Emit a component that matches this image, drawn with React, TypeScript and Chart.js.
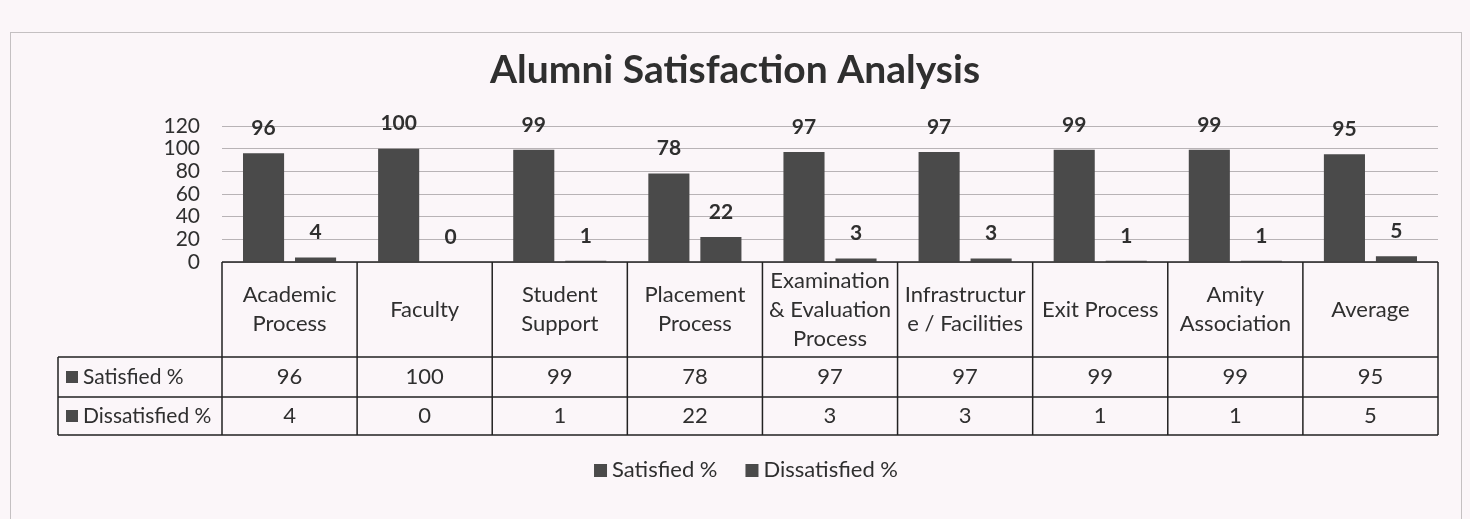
import { useEffect, useRef } from 'react';
import { Chart, registerables } from 'chart.js';
Chart.register(...registerables);

const categories: string[][] = [
  ['Academic', 'Process'],
  ['Faculty'],
  ['Student', 'Support'],
  ['Placement', 'Process'],
  ['Examination', '& Evaluation', 'Process'],
  ['Infrastructur', 'e / Facilities'],
  ['Exit Process'],
  ['Amity', 'Association'],
  ['Average'],
];
const satisfied = [96, 100, 99, 78, 97, 97, 99, 99, 95];
const dissatisfied = [4, 0, 1, 22, 3, 3, 1, 1, 5];
const seriesNames = ['Satisfied %', 'Dissatisfied %'];
const titleText = 'Alumni Satisfaction Analysis';
const yTicks = [0, 20, 40, 60, 80, 100, 120];

const FONT = 'Lato, "Open Sans", sans-serif';
const INK = '#2f2f2f';
const BAR = '#4a4a4a';
const BG = '#fbf6f9';

export default function App() {
  const ref = useRef<HTMLCanvasElement | null>(null);
  useEffect(() => {
    document.body.style.margin = '0';
    document.body.style.background = BG;
    const canvas = ref.current!;
    const tablePlugin = {
      id: 'tablePlugin',
      beforeDraw(chart: any) {
        const ctx = chart.ctx;
        ctx.save();
        ctx.fillStyle = BG;
        ctx.fillRect(0, 0, chart.width, chart.height);
        ctx.strokeStyle = '#c4c0c2';
        ctx.lineWidth = 1;
        ctx.strokeRect(10.5, 32.5, 1451, 490);
        ctx.restore();
      },
      afterDraw(chart: any) {
        const ctx = chart.ctx;
        const area = chart.chartArea;
        const xs = chart.scales.x;
        ctx.save();
        // title
        ctx.fillStyle = INK;
        ctx.font = `bold 39px ${FONT}`;
        ctx.textAlign = 'center';
        ctx.textBaseline = 'middle';
        ctx.fillText(titleText, 735, 70);
        // data labels
        ctx.font = `bold 21px ${FONT}`;
        chart.data.datasets.forEach((ds: any, di: number) => {
          const meta = chart.getDatasetMeta(di);
          meta.data.forEach((bar: any, i: number) => {
            ctx.fillText(String(ds.data[i]), bar.x, bar.y - 25);
          });
        });
        // table
        const n = categories.length;
        const cw = (area.right - area.left) / n;
        const top = area.bottom;
        const hdrB = top + 95;
        const r1B = hdrB + 40;
        const r2B = r1B + 38;
        const leftX = 58;
        ctx.strokeStyle = '#222';
        ctx.lineWidth = 1.5;
        ctx.beginPath();
        ctx.moveTo(area.left, top);
        ctx.lineTo(area.right, top);
        ctx.moveTo(leftX, hdrB);
        ctx.lineTo(area.right, hdrB);
        ctx.moveTo(leftX, r1B);
        ctx.lineTo(area.right, r1B);
        ctx.moveTo(leftX, r2B);
        ctx.lineTo(area.right, r2B);
        ctx.moveTo(leftX, hdrB);
        ctx.lineTo(leftX, r2B);
        for (let i = 0; i <= n; i++) {
          const x = area.left + i * cw;
          ctx.moveTo(x, top);
          ctx.lineTo(x, r2B);
        }
        ctx.stroke();
        ctx.font = `22px ${FONT}`;
        ctx.fillStyle = INK;
        const lh = 29;
        categories.forEach((lines, i) => {
          const cx = xs.getPixelForValue(i);
          const cy = (top + hdrB) / 2;
          const y0 = cy - ((lines.length - 1) * lh) / 2;
          lines.forEach((ln, k) => ctx.fillText(ln, cx, y0 + k * lh));
          ctx.fillText(String(satisfied[i]), cx, (hdrB + r1B) / 2);
          ctx.fillText(String(dissatisfied[i]), cx, (r1B + r2B) / 2);
        });
        // row headers
        ctx.textAlign = 'left';
        ctx.font = `21px ${FONT}`;
        const rows = [(hdrB + r1B) / 2, (r1B + r2B) / 2];
        rows.forEach((cy, k) => {
          ctx.fillStyle = BAR;
          ctx.fillRect(66, cy - 6, 12, 12);
          ctx.fillStyle = INK;
          ctx.fillText(seriesNames[k], 83, cy);
        });
        // legend
        ctx.font = `22px ${FONT}`;
        const gap = 28;
        const box = 13;
        const w0 = ctx.measureText(seriesNames[0]).width;
        const w1 = ctx.measureText(seriesNames[1]).width;
        const total = box + 5 + w0 + gap + box + 5 + w1;
        let lx = 746 - total / 2;
        const ly = 470;
        [w0, w1].forEach((w, k) => {
          ctx.fillStyle = BAR;
          ctx.fillRect(lx, ly - 6, box, box);
          ctx.fillStyle = INK;
          ctx.fillText(seriesNames[k], lx + box + 5, ly);
          lx += box + 5 + w + gap;
        });
        ctx.restore();
      },
    };
    const chart = new Chart(canvas, {
      type: 'bar',
      data: {
        labels: categories.map((c) => c.join(' ')),
        datasets: [
          { label: seriesNames[0], data: satisfied, backgroundColor: BAR, categoryPercentage: 0.77, barPercentage: 0.79 },
          { label: seriesNames[1], data: dissatisfied, backgroundColor: BAR, categoryPercentage: 0.77, barPercentage: 0.79 },
        ],
      },
      options: {
        responsive: false,
        animation: false,
        layout: { padding: { left: 100, top: 126, right: 32, bottom: 257 } },
        plugins: { legend: { display: false }, title: { display: false }, tooltip: { enabled: false } },
        scales: {
          x: { display: false, offset: true },
          y: {
            min: 0,
            max: 120,
            afterFit: (s: any) => {
              s.width = 122;
            },
            afterBuildTicks: (s: any) => {
              s.ticks = yTicks.map((v) => ({ value: v }));
            },
            border: { display: false },
            grid: { color: '#b8b3b6', drawTicks: false, lineWidth: 1 },
            ticks: { color: INK, font: { family: FONT, size: 21 }, padding: 22, autoSkip: false, stepSize: 20 },
          },
        },
      },
      plugins: [tablePlugin],
    });
    return () => chart.destroy();
  }, []);
  return (
    <div style={{ width: 1470, height: 519 }}>
      <canvas ref={ref} width={1470} height={519} style={{ display: 'block' }} />
    </div>
  );
}
